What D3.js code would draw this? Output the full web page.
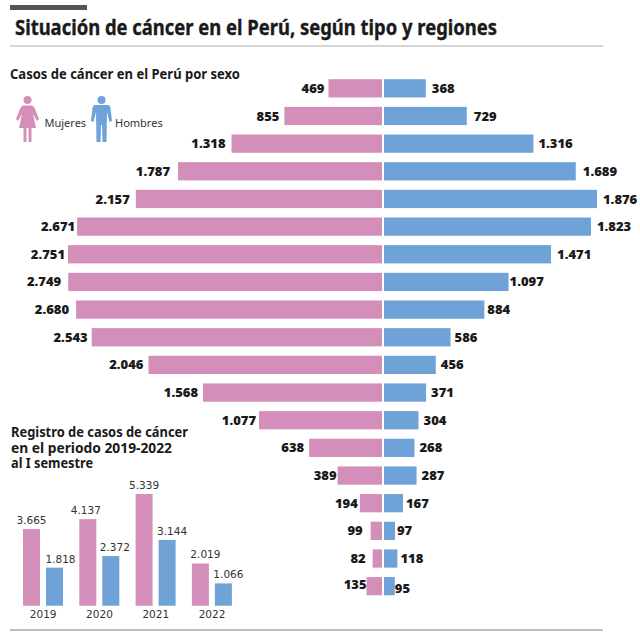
<!DOCTYPE html>
<html><head><meta charset="utf-8">
<script src="https://cdnjs.cloudflare.com/ajax/libs/d3/7.8.5/d3.min.js"></script>
<style>html,body{margin:0;padding:0;background:#fff}svg{display:block}</style></head>
<body><div id="c"></div>
<script>
const womenCases=[469,855,1318,1787,2157,2671,2751,2749,2680,2543,2046,1568,1077,638,389,194,99,82,135];
const menCases=[368,729,1316,1689,1876,1823,1471,1097,884,586,456,371,304,268,287,167,97,118,95];
const years=["2019","2020","2021","2022"];
const womenByYear=[3665,4137,5339,2019];
const menByYear=[1818,2372,3144,1066];
const titleText="Situación de cáncer en el Perú, según tipo y regiones";
const subtitleText="Casos de cáncer en el Perú por sexo";
const periodTitle=["Registro de casos de cáncer","en el periodo 2019-2022","al I semestre"];
const legendLabels=["Mujeres","Hombres"];

const PINK="#d38fb9",BLUE="#6fa3d8",INK="#1a1a1a";
const svg=d3.select("#c").append("svg").attr("width",640).attr("height",640);
const fmt=v=>d3.format(",")(v).replace(/,/g,".");
const sans="'Noto Sans',sans-serif", open="'Open Sans',sans-serif";

svg.append("rect").attr("x",10).attr("y",5).attr("width",77).attr("height",5).attr("fill","#555");
svg.append("line").attr("x1",10).attr("x2",603).attr("y1",46).attr("y2",46).attr("stroke","#aaa").attr("stroke-width",1);
svg.append("line").attr("x1",10).attr("x2",603).attr("y1",630).attr("y2",630).attr("stroke","#aaa").attr("stroke-width",1.5);
svg.append("text").attr("x",15).attr("y",35).attr("font-family",sans).attr("font-weight",700).attr("font-size",20.5).attr("textLength",482).attr("lengthAdjust","spacingAndGlyphs").attr("fill",INK).attr("stroke",INK).attr("stroke-width",0.35).text(titleText);
svg.append("text").attr("x",10).attr("y",79).attr("font-family",sans).attr("font-weight",700).attr("font-size",14).attr("textLength",230).attr("lengthAdjust","spacingAndGlyphs").attr("fill",INK).text(subtitleText);

// pyramid
const rows=d3.range(womenCases.length);
const y=d3.scaleBand().domain(rows).range([74.5,600]).paddingInner(0.34).paddingOuter(0.17);
const xW=d3.scaleLinear().domain([0,2751]).range([382,68]);
const xM=d3.scaleLinear().domain([0,1876]).range([384,597]);
// hand placement of the labels, as in the reference
const nudgeW=[2,1,0,-2,0,4,3,-1,-1,2,1,1,3,1,5,4,-2,-1,6];
const nudgeM=[0,1,-1,1,0,0,0,-5,-3,-2,-1,-1,-1,-1,-1,-3,-4,-3,-6];
const g=svg.append("g");
g.selectAll("rect.w").data(womenCases).join("rect").attr("class","w").attr("fill",PINK)
 .attr("x",d=>xW(d)).attr("width",d=>xW(0)-xW(d)).attr("y",(d,i)=>y(i)).attr("height",y.bandwidth());
g.selectAll("rect.m").data(menCases).join("rect").attr("class","m").attr("fill",BLUE)
 .attr("x",xM(0)).attr("width",d=>xM(d)-xM(0)).attr("y",(d,i)=>y(i)).attr("height",y.bandwidth());
const lab=s=>s.attr("font-family",open).attr("font-weight",800).attr("font-size",13).attr("fill",INK).attr("dy","0.35em");
g.selectAll("text.w").data(womenCases).join("text").attr("class","w").call(lab).attr("text-anchor","end")
 .attr("x",(d,i)=>xW(d)-6+nudgeW[i]).attr("y",(d,i)=>y(i)+y.bandwidth()/2-(i==18?2:0)).text(fmt);
g.selectAll("text.m").data(menCases).join("text").attr("class","m").call(lab)
 .attr("x",(d,i)=>xM(d)+6+nudgeM[i]).attr("y",(d,i)=>y(i)+y.bandwidth()/2+(i==18?2:0)).text(fmt);

// legend icons
function person(x,color,woman){
  const p=svg.append("g").attr("transform",`translate(${x},95)`).attr("fill",color);
  p.append("circle").attr("cx",11.5).attr("cy",5).attr("r",4);
  if(woman){
    p.append("path").attr("d","M7,10.5 L16,10.5 Q18,11 19,14 L23,24 L21,26 L17,19 L20,33 L15.5,33 L15.5,47 L12.5,47 L12.5,33 L10.5,33 L10.5,47 L7.5,47 L7.5,33 L3,33 L6,19 L2,26 L0,24 L4,14 Q5,11 7,10.5Z");
  } else {
    p.append("path").attr("d","M5,10 L18,10 Q20,10 20.5,13 L22,26 L19.5,27 L17,17 L16.5,47 L12.5,47 L12,30 L11,30 L10.5,47 L6.5,47 L6,17 L3.5,27 L1,26 L2.5,13 Q3,10 5,10Z");
  }
}
person(16,PINK,true);
person(90,BLUE,false);
svg.selectAll("text.lg").data(legendLabels).join("text").attr("class","lg")
 .attr("x",(d,i)=>i?115:44.5).attr("y",127).attr("font-family",sans).attr("font-size",11).attr("fill","#333").text(d=>d);

// period title
svg.selectAll("text.pt").data(periodTitle).join("text").attr("class","pt")
 .attr("x",11).attr("y",(d,i)=>437+i*15.6).attr("font-family",sans).attr("font-weight",700).attr("font-size",13.5).attr("fill",INK)
 .attr("textLength",(d,i)=>[177,161,82][i]).attr("lengthAdjust","spacingAndGlyphs").text(d=>d);

// grouped bars
const x0=d3.scaleBand().domain(years).range([23,248.2]);
const x1=d3.scaleBand().domain(["w","m"]).range([0,40]).paddingInner(0.26);
const yB=d3.scaleLinear().domain([0,5339]).range([605.7,494]);
const series=[["w",womenByYear,PINK,[0,-2,0,5]],["m",menByYear,BLUE,[6,4,5,5]]];
series.forEach(([k,vals,col,nudge])=>{
  svg.selectAll("rect.b"+k).data(vals).join("rect").attr("class","b"+k).attr("fill",col)
   .attr("x",(d,i)=>x0(years[i])+x1(k)).attr("width",x1.bandwidth()).attr("y",d=>yB(d)).attr("height",d=>yB(0)-yB(d));
  svg.selectAll("text.b"+k).data(vals).join("text").attr("class","b"+k)
   .attr("text-anchor","middle").attr("x",(d,i)=>x0(years[i])+x1(k)+x1.bandwidth()/2+nudge[i]).attr("y",d=>yB(d)-5)
   .attr("font-family","'DejaVu Sans',sans-serif").attr("font-size",10.5).attr("fill","#333").text(fmt);
});
const axis=d3.axisBottom(x0).tickSize(0).tickPadding(0);
const ax=svg.append("g").attr("transform","translate(-8,611)").call(axis);
ax.select(".domain").remove();
ax.selectAll("text").attr("font-family","'DejaVu Sans',sans-serif").attr("font-size",10.5).attr("fill","#333");
</script></body></html>
